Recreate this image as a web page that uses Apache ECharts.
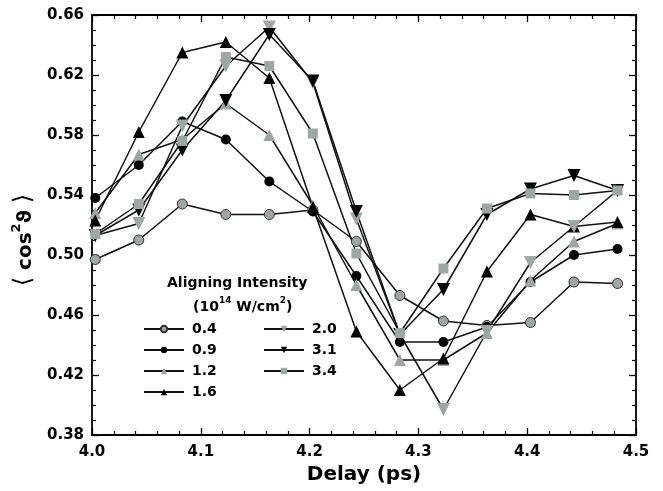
<!DOCTYPE html>
<html>
<head>
<meta charset="utf-8">
<script src="https://cdn.jsdelivr.net/npm/echarts@6/dist/echarts.min.js"></script>
<style>
  html, body { margin: 0; padding: 0; background: #fff; }
  #chart { width: 663px; height: 491px; }
</style>
</head>
<body>
<div id="chart"></div>
<script>
// Delay positions (ps)
const delay = [4.003, 4.043, 4.083, 4.123, 4.163, 4.203, 4.243, 4.283, 4.323, 4.363, 4.403, 4.443, 4.483];

// <cos^2 theta> per aligning intensity (10^14 W/cm^2)
const i04 = [0.497, 0.510, 0.534, 0.527, 0.527, 0.530, 0.509, 0.473, 0.456, 0.453, 0.455, 0.482, 0.481];
const i09 = [0.538, 0.560, 0.589, 0.577, 0.549, 0.529, 0.486, 0.442, 0.442, 0.452, 0.482, 0.500, 0.504];
const i12 = [0.528, 0.567, 0.577, 0.601, 0.580, 0.533, 0.480, 0.430, 0.430, 0.448, 0.483, 0.509, 0.521];
const i16 = [0.523, 0.582, 0.635, 0.642, 0.618, 0.532, 0.449, 0.410, 0.431, 0.489, 0.527, 0.519, 0.522];
const i20 = [0.513, 0.521, 0.586, 0.626, 0.652, 0.615, 0.524, 0.447, 0.397, 0.449, 0.495, 0.519, 0.543];
const i31 = [0.513, 0.530, 0.570, 0.603, 0.647, 0.616, 0.529, 0.447, 0.477, 0.527, 0.544, 0.553, 0.543];
const i34 = [0.514, 0.534, 0.576, 0.632, 0.626, 0.581, 0.501, 0.448, 0.491, 0.531, 0.541, 0.540, 0.543];

const intensityLabels = ['0.4', '0.9', '1.2', '1.6', '2.0', '3.1', '3.4'];
const xTicks = [4.0, 4.1, 4.2, 4.3, 4.4, 4.5];
const yTicks = [0.38, 0.42, 0.46, 0.50, 0.54, 0.58, 0.62, 0.66];

const GRAY = '#9fa6a6';
const INK = '#000';
const FONT = 'DejaVu Sans';
const DOWN_TRI = 'path://M0,0 L10,0 L5,8.7 Z';

function pairs(ys) { return delay.map((x, i) => [x, ys[i]]); }

function makeSeries(name, ys, symbol, size, fill, border) {
  return {
    name: name,
    type: 'line',
    data: pairs(ys),
    symbol: symbol,
    symbolSize: size,
    showAllSymbol: true,
    lineStyle: { color: '#111', width: 1.5 },
    itemStyle: { color: fill, borderColor: border || fill, borderWidth: border ? 1 : 0, opacity: 1 },
    emphasis: { disabled: true },
    animation: false
  };
}

const series = [
  makeSeries(intensityLabels[0], i04, 'circle', 10, GRAY, '#333'),
  makeSeries(intensityLabels[1], i09, 'circle', 10, INK),
  makeSeries(intensityLabels[2], i12, 'triangle', 12, GRAY),
  makeSeries(intensityLabels[3], i16, 'triangle', 12, INK),
  makeSeries(intensityLabels[4], i20, DOWN_TRI, 13, GRAY),
  makeSeries(intensityLabels[5], i31, DOWN_TRI, 13, INK),
  makeSeries(intensityLabels[6], i34, 'rect', 10, GRAY)
];

const tickCommon = { inside: true, length: 7, lineStyle: { color: INK, width: 1.3 } };
const minorCommon = { show: true, length: 4, lineStyle: { color: INK, width: 1.2 } };
const lineCommon = { show: true, onZero: false, lineStyle: { color: INK, width: 1.8 } };
const labelFont = { fontFamily: FONT, fontWeight: 'bold', fontSize: 15, color: INK };

const legendCommon = {
  orient: 'vertical',
  itemWidth: 40,
  itemHeight: 8,
  itemGap: 7,
  padding: 0,
  selectedMode: false,
  textStyle: { fontFamily: FONT, fontWeight: 'bold', fontSize: 14, lineHeight: 14, color: INK, padding: [0, 0, 0, 3] }
};

const chart = echarts.init(document.getElementById('chart'), null, { renderer: 'canvas' });
chart.setOption({
  animation: false,
  backgroundColor: '#fff',
  grid: { left: 92, right: 27, top: 15, bottom: 56, containLabel: false },
  xAxis: [
    {
      type: 'value', position: 'bottom',
      min: xTicks[0], max: xTicks[xTicks.length - 1], interval: 0.1,
      axisLine: lineCommon,
      axisTick: tickCommon,
      minorTick: Object.assign({ splitNumber: 5 }, minorCommon),
      splitLine: { show: false },
      axisLabel: Object.assign({ margin: 10, formatter: v => v.toFixed(1) }, labelFont),
      name: 'Delay (ps)', nameLocation: 'middle', nameGap: 30,
      nameTextStyle: { fontFamily: FONT, fontWeight: 'bold', fontSize: 20, color: INK }
    },
    {
      type: 'value', position: 'top',
      min: xTicks[0], max: xTicks[xTicks.length - 1], interval: 0.1,
      axisLine: lineCommon,
      axisTick: tickCommon,
      minorTick: Object.assign({ splitNumber: 5 }, minorCommon),
      splitLine: { show: false },
      axisLabel: { show: false }
    }
  ],
  yAxis: [
    {
      type: 'value', position: 'left',
      min: yTicks[0], max: yTicks[yTicks.length - 1], interval: 0.04,
      axisLine: lineCommon,
      axisTick: tickCommon,
      minorTick: Object.assign({ splitNumber: 4 }, minorCommon),
      splitLine: { show: false },
      axisLabel: Object.assign({ margin: 8, formatter: v => v.toFixed(2) }, labelFont),
      name: '{b|⟨}{t| cos}{s|2}{t|ϑ }{b|⟩}',
      nameLocation: 'middle', nameRotate: 90, nameGap: 54,
      nameTextStyle: {
        padding: [0, 30, 0, 0],
        rich: {
          t: { fontFamily: FONT, fontWeight: 'bold', fontSize: 20, color: INK, lineHeight: 26, verticalAlign: 'bottom' },
          s: { fontFamily: FONT, fontWeight: 'bold', fontSize: 13, color: INK, lineHeight: 26, verticalAlign: 'top' },
          b: { fontFamily: FONT, fontWeight: 'normal', fontSize: 24, color: INK, lineHeight: 26, verticalAlign: 'bottom' }
        }
      }
    },
    {
      type: 'value', position: 'right',
      min: yTicks[0], max: yTicks[yTicks.length - 1], interval: 0.04,
      axisLine: lineCommon,
      axisTick: tickCommon,
      minorTick: Object.assign({ splitNumber: 4 }, minorCommon),
      splitLine: { show: false },
      axisLabel: { show: false }
    }
  ],
  legend: [
    Object.assign({ left: 143, top: 322, data: intensityLabels.slice(0, 4) }, legendCommon),
    Object.assign({ left: 263, top: 322, data: intensityLabels.slice(4) }, legendCommon)
  ],
  graphic: [
    {
      type: 'text', left: 167, top: 276,
      style: { text: 'Aligning Intensity', font: 'bold 14px "DejaVu Sans"', fill: INK }
    },
    {
      type: 'text', left: 193, top: 296,
      style: {
        text: '{t|(10}{s|14}{t| W/cm}{s|2}{t|)}',
        rich: {
          t: { font: 'bold 14px "DejaVu Sans"', fill: INK, lineHeight: 18, verticalAlign: 'bottom' },
          s: { font: 'bold 9px "DejaVu Sans"', fill: INK, lineHeight: 18, verticalAlign: 'top' }
        }
      }
    }
  ],
  series: series
});
</script>
</body>
</html>
